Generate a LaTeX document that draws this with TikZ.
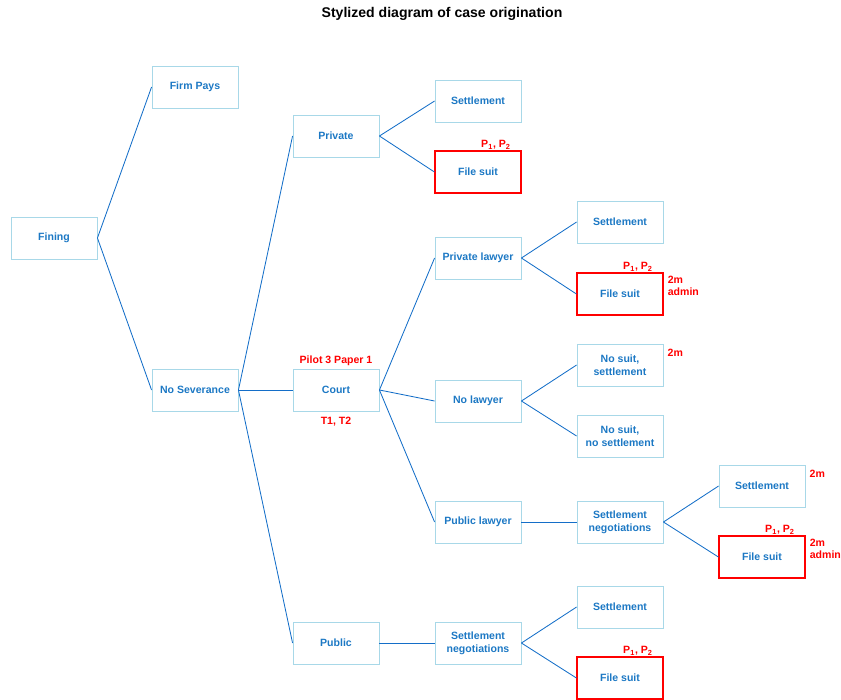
\documentclass[tikz,border=0pt]{standalone}
\usepackage{fontspec}
\setmainfont{Liberation Sans}
\usepackage{xcolor}
\usepackage{tikz}
\usetikzlibrary{positioning,calc}

\definecolor{boxline}{RGB}{168,216,232}
\definecolor{textblue}{RGB}{28,120,196}
\definecolor{edgeblue}{RGB}{20,110,200}
\definecolor{notered}{RGB}{255,0,0}

\begin{document}
\begin{tikzpicture}[
        x=0.025cm, y=-0.025cm,
        % Styles for the tree
        stage/.style={draw=boxline, line width=0.6pt, minimum width=2.15cm, minimum height=1.05cm, align=center, font=\fontsize{7.5}{9}\selectfont\bfseries, text=textblue, inner sep=1pt},
        suit/.style={stage, draw=notered, line width=0.8pt},
        branch/.style={draw=edgeblue, line width=0.6pt},
        note/.style={font=\fontsize{7.5}{9}\selectfont\bfseries, text=notered, inner sep=0pt, align=left}
      ]

      % Fixed frame of the picture
      \useasboundingbox (0,0) rectangle (841,699);

      % Title
      \node[font=\fontsize{10}{12}\selectfont\bfseries] (title) at (442,14) {Stylized diagram of case origination};

      % First and second levels
      \node[stage] (fining) at (54,238) {Fining};
      \node[stage] (firmpays) at (195,87) {Firm Pays};
      \node[stage] (nosev) at (195,390) {No Severance};

      % Third level
      \node[stage] (private) at (336,136) {Private};
      \node[stage] (court) at (336,390) {Court};
      \node[stage] (public) at (336,643) {Public};

      % Fourth level
      \node[stage] (privset) at (478,101) {Settlement};
      \node[suit] (privsuit) at (478,172) {File suit};
      \node[stage] (privlaw) at (478,258) {Private lawyer};
      \node[stage] (nolaw) at (478,401) {No lawyer};
      \node[stage] (publaw) at (478,522) {Public lawyer};
      \node[stage] (pubneg) at (478,643) {Settlement\\negotiations};

      % Fifth level
      \node[stage] (plset) at (620,222) {Settlement};
      \node[suit] (plsuit) at (620,294) {File suit};
      \node[stage] (nlset) at (620,365) {No suit,\\settlement};
      \node[stage] (nlnoset) at (620,436) {No suit,\\no settlement};
      \node[stage] (puneg) at (620,522) {Settlement\\negotiations};
      \node[stage] (pubset) at (620,607) {Settlement};
      \node[suit] (pubsuit) at (620,678) {File suit};

      % Sixth level
      \node[stage] (puset) at (762,486) {Settlement};
      \node[suit] (pusuit) at (762,557) {File suit};

      % Branches from parent to child
      \foreach \from/\to in {fining/firmpays, fining/nosev,
          nosev/private, nosev/court, nosev/public,
          private/privset, private/privsuit,
          court/privlaw, court/nolaw, court/publaw,
          public/pubneg,
          privlaw/plset, privlaw/plsuit,
          nolaw/nlset, nolaw/nlnoset,
          publaw/puneg, pubneg/pubset, pubneg/pubsuit,
          puneg/puset, puneg/pusuit} {
        \draw[branch] (\from.east) -- (\to.west);
      }

      % Red notes on the boxes
      \foreach \suitbox in {privsuit, plsuit, pusuit, pubsuit} {
        \node[note, anchor=south] (p\suitbox) at ($(\suitbox.north) + (18,-1)$) {P$_{\mathbf 1}$, P$_{\mathbf 2}$};
      }
      \node[note, anchor=north west] (adminpl) at ($(plsuit.north east) + (4,3)$) {2m\\admin};
      \node[note, anchor=north west] (adminpu) at ($(pusuit.north east) + (4,3)$) {2m\\admin};
      \node[note, anchor=north west] (mnl) at ($(nlset.north east) + (4,5)$) {2m};
      \node[note, anchor=north west] (mpu) at ($(puset.north east) + (4,5)$) {2m};
      \node[note, anchor=south] (pilot) at ($(court.north) + (0,-3)$) {Pilot 3 Paper 1};
      \node[note, anchor=north] (tt) at ($(court.south) + (0,5)$) {T1, T2};

    \end{tikzpicture}
\end{document}
